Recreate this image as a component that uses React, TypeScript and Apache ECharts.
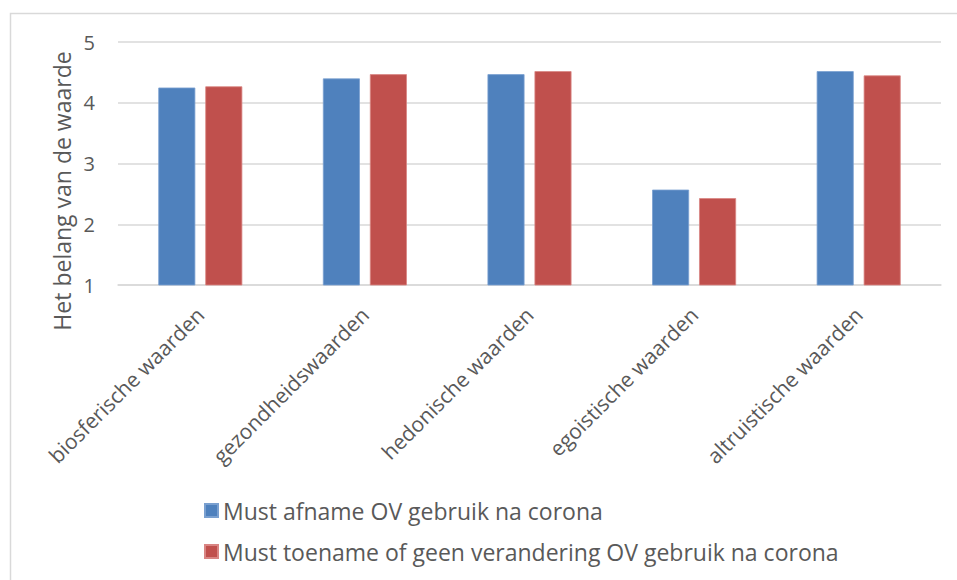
import React, { useEffect, useRef } from "react";
import * as echarts from "echarts";

const categories = [
  "biosferische waarden",
  "gezondheidswaarden",
  "hedonische waarden",
  "egoistische waarden",
  "altruistische waarden",
];
const seriesNames = [
  "Must afname OV gebruik na corona",
  "Must toename of geen verandering OV gebruik na corona",
];
const afname = [4.25, 4.4, 4.47, 2.57, 4.52];
const toename = [4.27, 4.47, 4.52, 2.43, 4.45];
const yTitle = "Het belang van de waarde";

const FONT = "'Open Sans', 'DejaVu Sans', sans-serif";
const TXT = "#595959";

export default function App() {
  const ref = useRef<HTMLDivElement>(null);
  useEffect(() => {
    if (!ref.current) return;
    const chart = echarts.init(ref.current, undefined, { renderer: "svg" });
    chart.setOption({
      animation: false,
      backgroundColor: "#ffffff",
      textStyle: { fontFamily: FONT },
      graphic: [
        {
          type: "rect",
          shape: { x: 10.5, y: 13.5, width: 970, height: 600 },
          style: { fill: "none", stroke: "#d9d9d9", lineWidth: 1.5 },
          silent: true,
        },
        {
          type: "text",
          x: 62,
          y: 191,
          rotation: Math.PI / 2,
          style: {
            text: yTitle,
            fontFamily: FONT,
            fontSize: 23,
            fill: TXT,
            align: "center",
            verticalAlign: "middle",
          },
        },
      ],
      grid: { left: 118, right: 16, top: 42, bottom: 295, containLabel: false },
      legend: {
        orient: "vertical",
        left: 199,
        top: 494,
        itemWidth: 13,
        itemHeight: 13,
        itemGap: 18,
        icon: "rect",
        textStyle: { fontFamily: FONT, fontSize: 23, color: TXT },
        data: seriesNames,
      },
      xAxis: {
        type: "category",
        data: categories,
        axisLine: { show: true, lineStyle: { color: "#d9d9d9", width: 1.5 } },
        axisTick: { show: false },
        axisLabel: {
          rotate: 45,
          interval: 0,
          margin: 26,
          fontFamily: FONT,
          fontSize: 21,
          color: TXT,
        },
      },
      yAxis: {
        type: "value",
        min: 1,
        max: 5,
        interval: 1,
        axisLine: { show: false },
        axisTick: { show: false },
        splitLine: { lineStyle: { color: "#d9d9d9", width: 1.5 } },
        axisLabel: { margin: 23, fontFamily: FONT, fontSize: 20, color: TXT },
      },
      series: [
        {
          name: seriesNames[0],
          type: "bar",
          data: afname,
          barWidth: 37,
          barGap: "27%",
          itemStyle: { color: "#4F81BD", borderColor: "#7aa0d0", borderWidth: 0.8 },
        },
        {
          name: seriesNames[1],
          type: "bar",
          data: toename,
          barWidth: 37,
          barGap: "27%",
          itemStyle: { color: "#C0504D", borderColor: "#d98583", borderWidth: 0.8 },
        },
      ],
    });
    return () => chart.dispose();
  }, []);
  return (
    <div
      ref={ref}
      style={{ position: "fixed", left: 0, top: 0, width: 957, height: 580, background: "#fff" }}
    />
  );
}
